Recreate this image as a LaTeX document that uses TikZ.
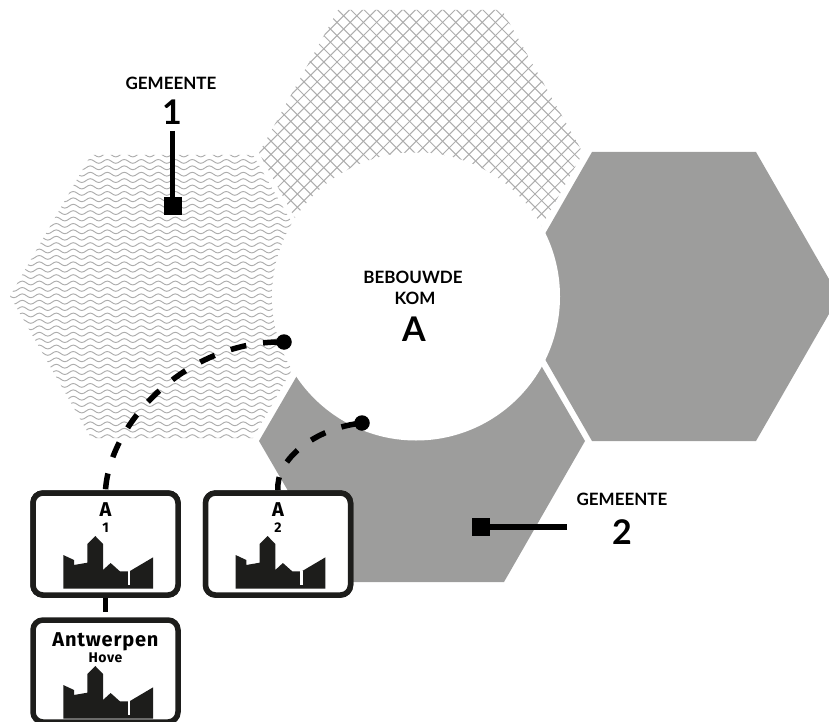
\documentclass[tikz,border=0pt]{standalone}
\usepackage{fontspec}
\usetikzlibrary{decorations.pathmorphing}
\setmainfont{Lato}
\newfontfamily\signfont[LetterSpace=4]{Fira Sans}
\definecolor{hexgrey}{HTML}{9D9D9C}
\definecolor{hatchgrey}{HTML}{ADADAD}
\definecolor{signink}{HTML}{1D1D1B}
\tikzset{
  solidhex/.style={fill=hexgrey,draw=none},
  wave/.style={draw=hatchgrey,line width=0.95pt,decorate,decoration={snake,segment length=17pt,amplitude=1.9pt}},
  hatch/.style={draw=hatchgrey,line width=1pt},
  kom/.style={circle,fill=white,draw=none,minimum size=288pt,inner sep=0pt},
  signbox/.style={draw=signink,fill=white,line width=5.5pt,rounded corners=10pt,minimum width=145pt,minimum height=102pt,inner sep=0pt},
  lab/.style={anchor=base,inner sep=0pt,font=\bfseries\fontsize{17}{17}\selectfont,text=black},
  bignum/.style={anchor=base,inner sep=0pt,font=\bfseries\fontsize{34}{34}\selectfont,text=black},
  signbig/.style={anchor=base,inner sep=0pt,font=\signfont\bfseries\fontsize{20}{20}\selectfont,text=black},
  signsmall/.style={anchor=base,inner sep=0pt,font=\signfont\bfseries\fontsize{14}{14}\selectfont,text=black},
  leader/.style={draw=black,line width=5.7pt},
  dashlead/.style={draw=black,line width=5.5pt,dash pattern=on 16pt off 17pt,dash phase=28pt},
  sqend/.style={fill=black,draw=none,minimum size=18pt,inner sep=0pt},
  dotend/.style={circle,fill=black,draw=none,minimum size=15.5pt,inner sep=0pt},
  skyline/.pic={
    \fill[signink] (0,-33.7) -- (10.7,-28.7) -- (10.7,-23.7) -- (24,-26) -- (24,-44.7) -- (32,-52.7) -- (39.7,-44.7) -- (39.7,-18.7) -- (47.3,-25.7) -- (56.7,-17.3) -- (66,-17.3) -- (89.7,-31.3) -- (89.7,0) -- (0,0) -- cycle;
    \fill[white] (64.8,-17.6) rectangle (66.9,-3.7);
  }
}
\begin{document}
\begin{tikzpicture}[x=1pt,y=-1pt]
\useasboundingbox (0,0) rectangle (829,722);
\clip (0,0) rectangle (829,722);
% patterned hexagons
\begin{scope}
  \clip (338,10) -- (502,10) -- (583,153) -- (502,296) -- (338,296) -- (259,153) -- cycle;
  \foreach \i in {-30,...,70} {
    \path[hatch] (\i*13.2+11,0) -- ++(320,320);
    \path[hatch] (\i*13.2+3,0) -- ++(-320,320);
  }
\end{scope}
\begin{scope}
  \clip (91,155) -- (253,155) -- (334,296) -- (253,438) -- (91,438) -- (10,296) -- cycle;
  \foreach \r in {0,...,44} {
    \path[wave] (0,155+\r*6.4) -- (345,155+\r*6.4);
  }
\end{scope}
% solid hexagons
\fill[solidhex] (592,152) -- (756,152) -- (839,296.5) -- (756,441) -- (592,441) -- (509,296.5) -- cycle;
\fill[solidhex] (341,300) -- (503,300) -- (585,441) -- (504,582) -- (341,582) -- (259,441) -- cycle;
\node[kom] (centre) at (416,296.5) {};
\node[lab] (bebouwde) at (413,283) {BEBOUWDE};
\node[lab] (komlabel) at (415,304) {KOM};
\node[bignum] (komA) at (414,341) {A};
% municipality labels
\node[lab] (gem1) at (171,90) {GEMEENTE};
\node[bignum] (num1) at (172,125) {1};
\node[lab] (gem2) at (622,505) {GEMEENTE};
\node[bignum] (num2) at (622,544) {2};
\coordinate (lead1) at (172.5,131);
\coordinate (lead2) at (567,527);
\node[sqend] (sq1) at (173,206) {};
\node[sqend] (sq2) at (481,527) {};
\draw[leader] (lead1) -- (lead1 |- sq1);
\draw[leader] (lead2) -- (sq2);
% sign boxes
\node[dotend] (dot1) at (284,342) {};
\node[dotend] (dot2) at (362,423) {};
\node[signbox] (sign3) at (105.5,671) {};
\node[signbox] (sign1) at (105.5,544) {};
\node[signbox] (sign2) at (278,544) {};
\draw[dashlead] (dot1.center) .. controls (190,340) and (110,420) .. (sign1.north);
\draw[dashlead] (dot2.center) .. controls (315,428) and (275,460) .. (sign2.north);
\node[signbox] at (sign1) {};
\node[signbox] at (sign2) {};
\draw[draw=black,line width=5.7pt,dash pattern=on 14pt off 30pt] (sign1.south) -- (sign3.north);
\node[signbig] (a1) at (105.5,516) {A};
\node[signsmall] (n1) at (105.5,532) {1};
\node[signbig] (a2) at (278,516) {A};
\node[signsmall] (n2) at (278,532) {2};
\node[signbig] (antw) at (105.5,646) {Antwerpen};
\node[signsmall] (hove) at (105.5,662) {Hove};
\pic at (63.3,588.7) {skyline};
\pic at (235.6,588.7) {skyline};
\pic at (63.3,718.7) {skyline};
\end{tikzpicture}
\end{document}
